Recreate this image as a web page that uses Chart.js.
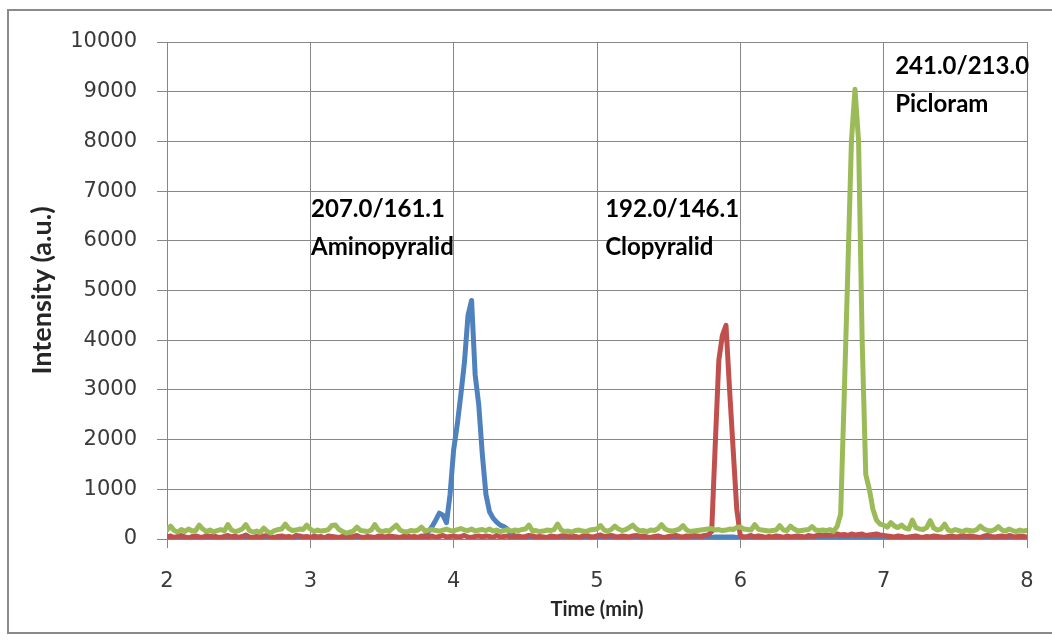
<!DOCTYPE html>
<html><head><meta charset="utf-8">
<script src="https://cdn.jsdelivr.net/npm/chart.js@4/dist/chart.umd.min.js"></script>
<style>
html,body{margin:0;padding:0;background:#fff;overflow:hidden;}
canvas{display:block;}
</style></head><body>
<canvas id="c" width="1052" height="640"></canvas>
<script>
// ---- data (time grid 2.000 .. 8.000 min, step 0.025) ----
const T_START = 2, T_STEP = 0.025, N_POINTS = 241;
const xTicks = [2, 3, 4, 5, 6, 7, 8];
const yTicks = [0, 1000, 2000, 3000, 4000, 5000, 6000, 7000, 8000, 9000, 10000];

const seriesNames = ['241.0/213.0 Picloram', '192.0/146.1 Clopyralid', '207.0/161.1 Aminopyralid'];

const picloram = [
180,260,170,140,190,150,200,160,
170,280,200,150,180,140,170,190,
160,290,180,150,170,200,290,170,
140,160,130,220,150,120,170,190,
200,300,210,170,180,200,190,280,
200,150,180,160,170,190,270,280,
190,150,120,140,160,240,170,160,
150,180,290,180,150,170,160,220,
280,180,150,140,170,160,180,240,
160,180,190,170,160,180,200,170,
160,190,210,180,170,200,160,180,
190,170,200,160,180,150,170,190,
160,180,170,190,200,280,160,170,
150,160,180,170,190,300,180,150,
160,140,170,180,160,150,180,190,
200,270,180,160,190,260,200,170,
190,230,280,200,160,170,150,180,
170,210,290,200,170,160,180,200,
270,180,150,160,170,180,190,200,
210,180,190,170,180,200,190,230,
240,200,190,180,290,200,180,170,
160,170,180,270,180,170,260,200,
160,170,180,190,250,180,170,180,
170,190,150,250,500,2900,5400,8000,
9050,8000,4000,1300,1000,600,380,300,
280,240,330,260,230,280,220,200,
380,230,200,190,230,370,220,180,
200,300,180,160,190,170,150,180,
170,160,190,260,200,170,160,190,
250,180,160,200,170,150,180,160,
170];

const clopyralid = [
40,60,30,50,70,40,20,50,
60,40,30,70,50,60,40,30,
50,70,40,60,30,50,80,40,
30,50,40,60,70,40,30,50,
60,40,50,30,70,60,40,50,
30,60,40,50,20,60,50,40,
30,50,60,40,50,70,40,30,
50,40,30,60,50,40,60,50,
40,30,50,60,40,50,30,60,
50,40,60,30,50,70,40,50,
60,40,50,70,40,30,50,60,
40,60,50,30,70,40,50,60,
30,50,60,40,50,70,60,40,
50,40,30,60,50,40,60,70,
40,60,50,30,60,70,50,40,
60,80,50,60,70,50,40,60,
50,40,60,70,50,60,40,30,
50,60,40,30,50,60,70,50,
40,60,50,70,60,50,70,80,
150,1900,3600,4100,4300,3000,1800,600,
60,40,50,70,40,60,50,30,
50,40,60,50,30,60,40,50,
60,50,40,70,50,60,80,70,
80,70,90,100,80,90,70,100,
80,90,100,70,80,90,100,80,
70,60,50,40,60,50,30,40,
50,60,40,30,50,40,60,50,
40,30,50,60,40,50,70,50,
60,50,40,30,60,70,50,40,
50,60,40,70,50,40,60,50,
40];

const aminopyralid = [
20,20,20,20,20,20,20,20,
20,20,20,20,20,20,20,20,
20,20,20,20,20,20,20,20,
20,20,20,20,20,20,20,20,
20,20,20,20,20,20,20,20,
20,20,20,20,20,20,20,20,
20,20,20,20,20,20,20,20,
20,20,20,20,20,20,20,20,
20,20,20,20,20,20,30,40,
60,150,250,380,520,480,330,900,
1800,2300,2900,3550,4500,4800,3300,2700,
1700,900,550,420,340,280,250,200,
120,60,30,20,20,20,20,20,
20,20,20,20,20,20,20,20,
20,20,20,20,20,20,20,20,
20,20,20,20,20,20,20,20,
20,20,20,20,20,20,20,20,
20,20,20,20,20,20,20,20,
20,20,20,20,20,20,20,30,
30,40,40,40,40,40,40,30,
20,20,20,20,20,20,20,20,
20,20,20,20,20,20,20,20,
20,20,20,20,20,20,20,20,
20,20,20,20,20,20,20,20,
20,20,20,20,20,20,20,20,
20,20,20,20,20,20,20,20,
20,20,20,20,20,20,20,20,
20,20,20,20,20,20,20,20,
20,20,20,20,20,20,20,20,
20,20,20,20,20,20,20,20,
20];

// peak annotations
const annotLine1 = ['207.0/161.1', '192.0/146.1', '241.0/213.0'];
const annotLine2 = ['Aminopyralid', 'Clopyralid', 'Picloram'];
const annotTime  = [3.005, 5.057, 7.08];
const annotLevel = [6480, 6480, 9356];

// ---- build ----
const times = [];
for (let i = 0; i < N_POINTS; i++) times.push(+(T_START + i * T_STEP).toFixed(3));
const pts = arr => arr.map((v, i) => ({x: times[i], y: v}));

const GRID = '#878787';
const TICKCOL = '#3a3a3a';

const framePlugin = {
  id: 'frame',
  beforeDraw(chart) {
    const ctx = chart.ctx;
    ctx.save();
    ctx.fillStyle = '#fff';
    ctx.fillRect(0, 0, chart.width, chart.height);
    ctx.strokeStyle = '#8a8a8a';
    ctx.lineWidth = 2;
    ctx.strokeRect(8, 10, 1080, 623);
    ctx.restore();
  }
};

const annotPlugin = {
  id: 'annot',
  afterDatasetsDraw(chart) {
    const {ctx, scales: {x, y}} = chart;
    ctx.save();
    ctx.font = 'bold 24px Lato';
    ctx.fillStyle = '#000';
    ctx.textBaseline = 'alphabetic';
    ctx.textAlign = 'left';
    for (let i = 0; i < annotLine1.length; i++) {
      const px = x.getPixelForValue(annotTime[i]);
      const py = y.getPixelForValue(annotLevel[i]);
      ctx.fillText(annotLine1[i], px, py);
      ctx.fillText(annotLine2[i], px, py + 38);
    }
    ctx.restore();
  }
};

new Chart(document.getElementById('c'), {
  type: 'line',
  data: {
    datasets: [
      {label: seriesNames[0], data: pts(picloram), borderColor: '#9bbb59', borderWidth: 5},
      {label: seriesNames[1], data: pts(clopyralid), borderColor: '#c0504d', borderWidth: 5},
      {label: seriesNames[2], data: pts(aminopyralid), borderColor: '#4f81bd', borderWidth: 5}
    ]
  },
  options: {
    responsive: false,
    animation: false,
    devicePixelRatio: 1,
    elements: {
      point: {radius: 0},
      line: {tension: 0, borderJoinStyle: 'round', borderCapStyle: 'round', fill: false}
    },
    layout: {padding: {left: 0, top: 42, right: 25, bottom: 0}},
    plugins: {legend: {display: false}, tooltip: {enabled: false}},
    scales: {
      x: {
        type: 'linear', min: 2, max: 8,
        afterBuildTicks: s => { s.ticks = xTicks.map(v => ({value: v})); },
        afterFit: s => { s.height = 101; s.paddingLeft = 0; s.paddingRight = 0; },
        ticks: {font: {family: 'DejaVu Sans', size: 21}, color: TICKCOL, padding: 21, maxRotation: 0},
        grid: {color: GRID, lineWidth: 1, tickLength: 9, drawTicks: true},
        border: {color: GRID, width: 1},
        title: {display: true, text: 'Time (min)', font: {family: 'Lato', size: 20, weight: 'bold'}, color: '#262626', padding: {top: 0, bottom: 18}}
      },
      y: {
        min: 0, max: 10000,
        afterBuildTicks: s => { s.ticks = yTicks.map(v => ({value: v})); },
        afterFit: s => { s.width = 167; },
        ticks: {font: {family: 'DejaVu Sans', size: 21}, color: TICKCOL, padding: 20, callback: v => String(v)},
        grid: {color: GRID, lineWidth: 1, tickLength: 10, drawTicks: true},
        border: {color: GRID, width: 1},
        title: {display: true, text: 'Intensity (a.u.)', font: {family: 'Lato', size: 27, weight: 'bold'}, color: '#262626', padding: {top: 26, bottom: 0}}
      }
    }
  },
  plugins: [framePlugin, annotPlugin]
});
</script>
</body></html>
